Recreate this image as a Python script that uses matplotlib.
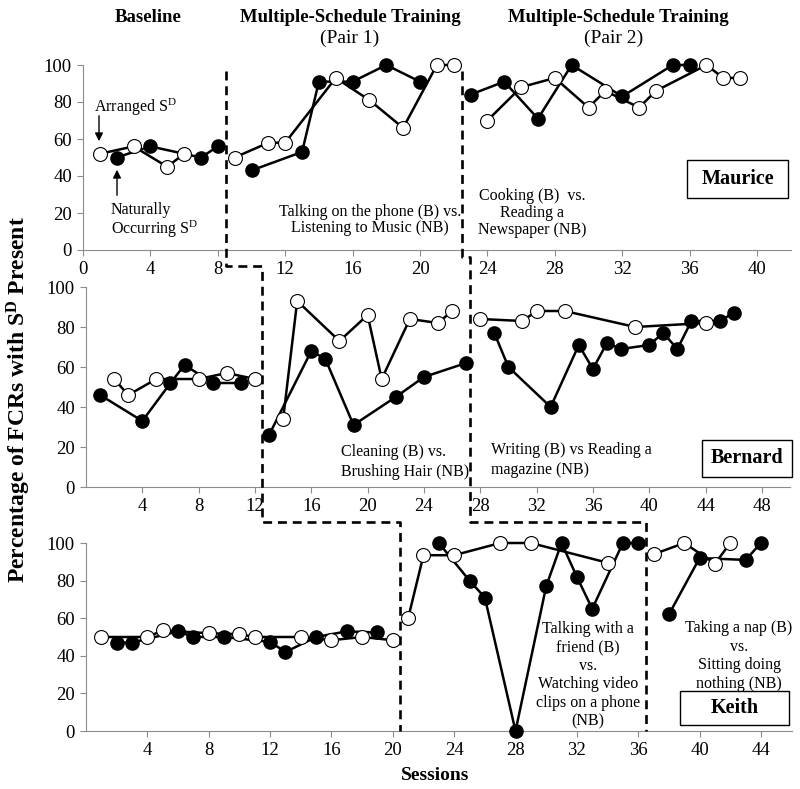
import matplotlib
matplotlib.use("Agg")
import matplotlib.pyplot as plt
from matplotlib.patches import Rectangle, FancyArrowPatch
from matplotlib.lines import Line2D

plt.rcParams['font.family'] = ['Liberation Serif', 'DejaVu Serif']
plt.rcParams['mathtext.fontset'] = 'custom'
plt.rcParams['mathtext.rm'] = 'Liberation Serif'
plt.rcParams['mathtext.it'] = 'Liberation Serif:italic'
plt.rcParams['mathtext.bf'] = 'Liberation Serif:bold'

# ---------------- data ----------------
# Maurice
maurice_open_x = [1, 3, 5, 6]
maurice_open_y = [52, 56, 45, 52]
maurice_fill_x = [2, 4, 7, 8]
maurice_fill_y = [50, 56, 50, 56]
maurice_p1_open_x = [9, 11, 12, 15, 17, 19, 21, 22]
maurice_p1_open_y = [50, 58, 58, 93, 81, 66, 100, 100]
maurice_p1_fill_x = [10, 13, 14, 16, 18, 20]
maurice_p1_fill_y = [43, 53, 91, 91, 100, 91]
maurice_p2_open_x = [24, 26, 28, 30, 31, 33, 34, 37, 38, 39]
maurice_p2_open_y = [70, 88, 93, 77, 86, 77, 86, 100, 93, 93]
maurice_p2_fill_x = [23, 25, 27, 29, 32, 35, 36]
maurice_p2_fill_y = [84, 91, 71, 100, 83, 100, 100]

# Bernard
bernard_open_x = [2, 3, 5, 8, 10, 12]
bernard_open_y = [54, 46, 54, 54, 57, 54]
bernard_fill_x = [1, 4, 6, 7, 9, 11]
bernard_fill_y = [46, 33, 52, 61, 52, 52]
bernard_p1_open_x = [14, 15, 18, 20, 21, 23, 25, 26]
bernard_p1_open_y = [34, 93, 73, 86, 54, 84, 82, 88]
bernard_p1_fill_x = [13, 16, 17, 19, 22, 24, 27]
bernard_p1_fill_y = [26, 68, 64, 31, 45, 55, 62]
bernard_p2_open_x = [28, 31, 32, 34, 39, 44]
bernard_p2_open_y = [84, 83, 88, 88, 80, 82]
bernard_p2_fill_x = [29, 30, 33, 35, 36, 37, 38, 40, 41, 42, 43, 45, 46]
bernard_p2_fill_y = [77, 60, 40, 71, 59, 72, 69, 71, 77, 69, 83, 83, 87]

# Keith
keith_open_x = [1, 4, 5, 8, 10, 11, 14, 16, 18, 20]
keith_open_y = [50, 50, 53.5, 52, 51.5, 50, 50, 48.3, 50, 48.3]
keith_fill_x = [2, 3, 6, 7, 9, 12, 13, 15, 17, 19]
keith_fill_y = [47, 47, 53, 50, 50, 47.4, 42, 50, 53, 52.4]
keith_p1_open_x = [21, 22, 24, 27, 29, 34]
keith_p1_open_y = [60, 93.5, 93.5, 100, 100, 89.5]
keith_p1_fill_x = [23, 25, 26, 28, 30, 31, 32, 33, 35, 36]
keith_p1_fill_y = [100, 80, 71, 0, 77, 100, 82, 65, 100, 100]
keith_p2_open_x = [37, 39, 41, 42]
keith_p2_open_y = [94, 100, 89, 100]
keith_p2_fill_x = [38, 40, 43, 44]
keith_p2_fill_y = [62, 92, 91, 100]

# phase-change positions (sessions) for each panel
phase1_x = [8.5, 12.5, 20.5]
phase2_x = [22.5, 27.3, 36.5]

names = ["Maurice", "Bernard", "Keith"]
xmax = [42, 50, 46]
xticks = [list(range(0, 41, 4)), list(range(4, 49, 4)), list(range(4, 45, 4))]
yticks = [0, 20, 40, 60, 80, 100]

# ---------------- layout ----------------
W, H = 800, 789
fig = plt.figure(figsize=(W / 100, H / 100), dpi=100)

def fx(px):
    return px / W

def fy(py):
    return 1 - py / H

# (x0 pixel, px per session, y0 pixel, y100 pixel)
geo = [(83, 16.85, 250, 65), (86, 14.08, 487, 287), (86, 15.34, 731, 543)]
axes = []
for (x0, ppu, y0, y1), xm in zip(geo, xmax):
    ax = fig.add_axes([fx(x0), fy(y0), xm * ppu / W, (y0 - y1) / H])
    axes.append(ax)

spine_col = '#8c8c8c'
for ax, xm, xt in zip(axes, xmax, xticks):
    ax.set_xlim(0, xm)
    ax.set_ylim(0, 100)
    ax.set_xticks(xt)
    ax.set_yticks(yticks)
    for s in ['top', 'right']:
        ax.spines[s].set_visible(False)
    for s in ['left', 'bottom']:
        ax.spines[s].set_color(spine_col)
        ax.spines[s].set_linewidth(0.8)
    ax.tick_params(axis='both', colors=spine_col, labelcolor='black',
                   labelsize=13.5, length=4, width=0.8, direction='out', pad=4)
    ax.patch.set_visible(False)

def series(ax, xs, ys, filled):
    if filled:
        ax.plot(xs, ys, color='black', lw=1.8, marker='o', ms=9.5,
                mfc='black', mec='black', clip_on=False, zorder=3)
    else:
        ax.plot(xs, ys, color='black', lw=1.8, marker='o', ms=10,
                mfc='white', mec='black', mew=0.8, clip_on=False, zorder=4)

a0, a1, a2 = axes
series(a0, maurice_fill_x, maurice_fill_y, True)
series(a0, maurice_open_x, maurice_open_y, False)
series(a0, maurice_p1_fill_x, maurice_p1_fill_y, True)
series(a0, maurice_p1_open_x, maurice_p1_open_y, False)
series(a0, maurice_p2_fill_x, maurice_p2_fill_y, True)
series(a0, maurice_p2_open_x, maurice_p2_open_y, False)

series(a1, bernard_fill_x, bernard_fill_y, True)
series(a1, bernard_open_x, bernard_open_y, False)
series(a1, bernard_p1_fill_x, bernard_p1_fill_y, True)
series(a1, bernard_p1_open_x, bernard_p1_open_y, False)
series(a1, bernard_p2_fill_x, bernard_p2_fill_y, True)
series(a1, bernard_p2_open_x, bernard_p2_open_y, False)

series(a2, keith_fill_x, keith_fill_y, True)
series(a2, keith_open_x, keith_open_y, False)
series(a2, keith_p1_fill_x, keith_p1_fill_y, True)
series(a2, keith_p1_open_x, keith_p1_open_y, False)
series(a2, keith_p2_fill_x, keith_p2_fill_y, True)
series(a2, keith_p2_open_x, keith_p2_open_y, False)

# ---------------- phase change lines ----------------
def xfig(ax, xv):
    disp = ax.transData.transform((xv, 0))
    return fig.transFigure.inverted().transform(disp)[0]

def yfig_data(ax, yv):
    disp = ax.transData.transform((0, yv))
    return fig.transFigure.inverted().transform(disp)[1]

def phase_line(xs, top_val, join1_px, join2_px):
    x0 = xfig(a0, xs[0]); x1 = xfig(a1, xs[1]); x2 = xfig(a2, xs[2])
    pts_x = [x0, x0, x1, x1, x2, x2]
    pts_y = [yfig_data(a0, top_val), fy(join1_px), fy(join1_px),
             fy(join2_px), fy(join2_px), yfig_data(a2, 0)]
    fig.add_artist(Line2D(pts_x, pts_y, transform=fig.transFigure,
                          color='black', lw=1.9, linestyle=(0, (3.4, 2.2))))

phase_line(phase1_x, 97, 266, 522)
phase_line(phase2_x, 97, 257, 522)

# ---------------- texts ----------------
fig.text(fx(148), fy(17), "Baseline", ha='center', va='center', fontsize=13.5, fontweight='bold')
fig.text(fx(350), fy(17), "Multiple-Schedule Training", ha='center', va='center', fontsize=13.5, fontweight='bold')
fig.text(fx(350), fy(38), "(Pair 1)", ha='center', va='center', fontsize=14)
fig.text(fx(618), fy(17), "Multiple-Schedule Training", ha='center', va='center', fontsize=13.5, fontweight='bold')
fig.text(fx(614), fy(38), "(Pair 2)", ha='center', va='center', fontsize=14)

fig.text(fx(19), fy(400), r"Percentage of FCRs with S$^{\mathbf{D}}$ Present", rotation=90,
         ha='center', va='center', fontsize=17, fontweight='bold')
fig.text(fx(435), fy(775), "Sessions", ha='center', va='center', fontsize=14, fontweight='bold')

ann = dict(fontsize=11.5, linespacing=1.05)
fig.text(fx(94), fy(107), r"Arranged S$^{\mathrm{D}}$", ha='left', va='center', **ann)
fig.text(fx(111), fy(221), "Naturally\n" + r"Occurring S$^{\mathrm{D}}$", ha='left', va='center', **ann)
fig.text(fx(370), fy(220), "Talking on the phone (B) vs.\nListening to Music (NB)", ha='center', va='center', **ann)
fig.text(fx(532), fy(213), "Cooking (B)  vs.\nReading a\nNewspaper (NB)", ha='center', va='center', **ann)
fig.text(fx(341), fy(462), "Cleaning (B) vs.\nBrushing Hair (NB)", ha='left', va='center', fontsize=11.5, linespacing=1.35)
fig.text(fx(491), fy(460), "Writing (B) vs Reading a\nmagazine (NB)", ha='left', va='center', fontsize=11.5, linespacing=1.35)
fig.text(fx(588), fy(675), "Talking with a\nfriend (B)\nvs.\nWatching video\nclips on a phone\n(NB)",
         ha='center', va='center', fontsize=11.5, linespacing=1.2)
fig.text(fx(739), fy(656), "Taking a nap (B)\nvs.\nSitting doing\nnothing (NB)",
         ha='center', va='center', fontsize=11.5, linespacing=1.2)

# arrows
fig.add_artist(FancyArrowPatch((fx(99), fy(113)), (fx(99), fy(144)),
               transform=fig.transFigure, arrowstyle='-|>', mutation_scale=12, color='black', lw=1))
fig.add_artist(FancyArrowPatch((fx(117), fy(198)), (fx(117), fy(167)),
               transform=fig.transFigure, arrowstyle='-|>', mutation_scale=12, color='black', lw=1))

# name boxes
boxes = [(687, 160, 788, 198), (702, 440, 792, 477), (680, 691, 789, 725)]
for nm, (bx0, by0, bx1, by1) in zip(names, boxes):
    fig.add_artist(Rectangle((fx(bx0), fy(by1)), fx(bx1) - fx(bx0), fy(by0) - fy(by1),
                             transform=fig.transFigure, fill=True, facecolor='white',
                             edgecolor='black', lw=1, zorder=5))
    fig.text(fx((bx0 + bx1) / 2), fy((by0 + by1) / 2), nm, ha='center', va='center',
             fontsize=14.5, fontweight='bold', zorder=6)

fig.savefig("out.png", dpi=100)
